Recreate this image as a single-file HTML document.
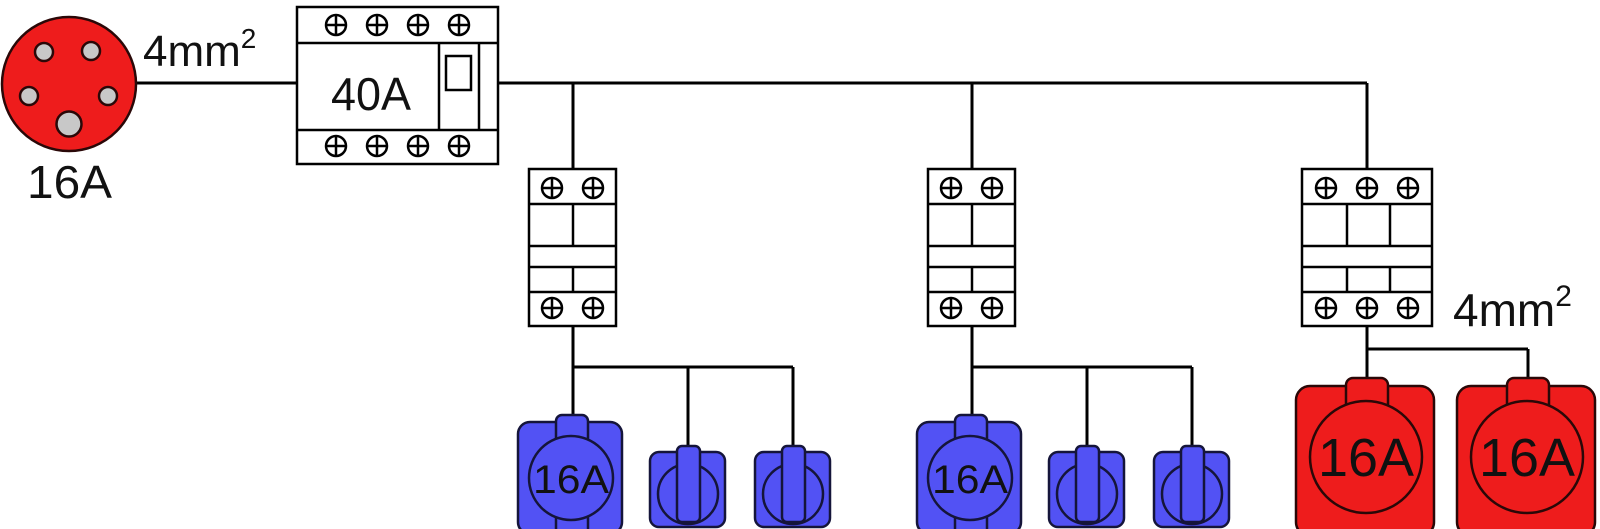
<!DOCTYPE html>
<html><head><meta charset="utf-8"><style>
html,body{margin:0;padding:0;background:#fff;}
svg{display:block;}
text{font-family:"Liberation Sans",sans-serif;}
</style></head><body>
<svg width="1600" height="529" viewBox="0 0 1600 529" xmlns="http://www.w3.org/2000/svg">
<defs>
<g id="scr"><circle r="10" fill="#fff" stroke="#000" stroke-width="2.5"/><line x1="-10" y1="0" x2="10" y2="0" stroke="#000" stroke-width="2.5"/><line x1="0" y1="-10" x2="0" y2="10" stroke="#000" stroke-width="2.5"/></g>
<g id="bbig">
<rect x="0" y="7" width="104" height="112" rx="12" fill="#5252f4" stroke="#15153a" stroke-width="2.5"/>
<rect x="38" y="0" width="32" height="30" rx="6" fill="#5252f4" stroke="#15153a" stroke-width="2.5"/>
<rect x="38" y="95" width="32" height="30" rx="6" fill="#5252f4" stroke="#15153a" stroke-width="2.5"/>
<circle cx="53" cy="63" r="42" fill="#5252f4" stroke="#15153a" stroke-width="2.5"/>
<text x="53" y="78" font-size="40" text-anchor="middle" fill="#111" textLength="76" lengthAdjust="spacingAndGlyphs">16A</text>
</g>
<g id="bsm">
<rect x="0" y="6" width="75" height="75" rx="9" fill="#5252f4" stroke="#15153a" stroke-width="2.5"/>
<circle cx="38" cy="48" r="30" fill="#5252f4" stroke="#15153a" stroke-width="2.5"/>
<rect x="27" y="0" width="23" height="76" rx="5" fill="#5252f4" stroke="#15153a" stroke-width="2.5"/>
</g>
<g id="rsock">
<rect x="0" y="8" width="138" height="150" rx="14" fill="#ee1c1c" stroke="#2a0808" stroke-width="2.5"/>
<rect x="50" y="0" width="42" height="40" rx="7" fill="#ee1c1c" stroke="#2a0808" stroke-width="2.5"/>
<circle cx="70" cy="79" r="56" fill="#ee1c1c" stroke="#2a0808" stroke-width="2.5"/>
<text x="70" y="98" font-size="54" text-anchor="middle" fill="#111" textLength="96" lengthAdjust="spacingAndGlyphs">16A</text>
</g>
</defs>
<g stroke="#000" stroke-width="3" fill="none">
<line x1="136" y1="83" x2="297" y2="83"/>
<line x1="498" y1="83" x2="1367" y2="83"/>
<line x1="573" y1="83" x2="573" y2="169"/>
<line x1="972" y1="83" x2="972" y2="169"/>
<line x1="1367" y1="83" x2="1367" y2="169"/>
<line x1="573" y1="326" x2="573" y2="416"/>
<line x1="573" y1="367" x2="793" y2="367"/>
<line x1="688" y1="367" x2="688" y2="447"/>
<line x1="793" y1="367" x2="793" y2="447"/>
<line x1="972" y1="326" x2="972" y2="416"/>
<line x1="972" y1="367" x2="1192" y2="367"/>
<line x1="1087" y1="367" x2="1087" y2="447"/>
<line x1="1192" y1="367" x2="1192" y2="447"/>
<line x1="1367" y1="326" x2="1367" y2="379"/>
<line x1="1367" y1="349" x2="1528" y2="349"/>
<line x1="1528" y1="349" x2="1528" y2="379"/>
</g>
<!-- plug -->
<circle cx="69" cy="84" r="67" fill="#ee1c1c" stroke="#2a0808" stroke-width="2.5"/>
<g fill="#c8c8c8" stroke="#2a0808" stroke-width="2.5">
<circle cx="44" cy="52" r="9"/><circle cx="91" cy="51" r="9"/>
<circle cx="29" cy="96" r="9"/><circle cx="108" cy="96" r="9"/>
<circle cx="69" cy="124" r="12.5"/>
</g>
<text x="27" y="198" font-size="46" fill="#111" textLength="85" lengthAdjust="spacingAndGlyphs">16A</text>
<text x="143" y="66" font-size="44" fill="#111">4mm<tspan font-size="28" dy="-18">2</tspan></text>
<!-- main breaker -->
<g stroke="#000" stroke-width="2.5" fill="#fff">
<rect x="297" y="7" width="201" height="157"/>
<line x1="297" y1="43" x2="498" y2="43"/>
<line x1="297" y1="130" x2="498" y2="130"/>
<line x1="439" y1="43" x2="439" y2="130"/>
<line x1="479" y1="43" x2="479" y2="130"/>
<rect x="446" y="56" width="25" height="34"/>
</g>
<use href="#scr" x="336" y="25"/><use href="#scr" x="377" y="25"/><use href="#scr" x="418" y="25"/><use href="#scr" x="459" y="25"/>
<use href="#scr" x="336" y="146"/><use href="#scr" x="377" y="146"/><use href="#scr" x="418" y="146"/><use href="#scr" x="459" y="146"/>
<text x="371" y="110" font-size="46" text-anchor="middle" fill="#111" textLength="80" lengthAdjust="spacingAndGlyphs">40A</text>
<!-- breaker 2-pole -->
<g id="b2">
<g stroke="#000" stroke-width="2.5" fill="#fff">
<rect x="529" y="169" width="87" height="157"/>
<line x1="529" y1="204" x2="616" y2="204"/>
<line x1="529" y1="246" x2="616" y2="246"/>
<line x1="529" y1="267" x2="616" y2="267"/>
<line x1="529" y1="292" x2="616" y2="292"/>
<line x1="573" y1="204" x2="573" y2="246"/>
<line x1="573" y1="267" x2="573" y2="292"/>
</g>
<use href="#scr" x="552" y="188"/><use href="#scr" x="593" y="188"/>
<use href="#scr" x="552" y="308"/><use href="#scr" x="593" y="308"/>
</g>
<use href="#b2" x="399" y="0"/>
<!-- breaker 3-pole -->
<g stroke="#000" stroke-width="2.5" fill="#fff">
<rect x="1302" y="169" width="130" height="157"/>
<line x1="1302" y1="204" x2="1432" y2="204"/>
<line x1="1302" y1="246" x2="1432" y2="246"/>
<line x1="1302" y1="267" x2="1432" y2="267"/>
<line x1="1302" y1="292" x2="1432" y2="292"/>
<line x1="1347" y1="204" x2="1347" y2="246"/><line x1="1390" y1="204" x2="1390" y2="246"/>
<line x1="1347" y1="267" x2="1347" y2="292"/><line x1="1390" y1="267" x2="1390" y2="292"/>
</g>
<use href="#scr" x="1326" y="188"/><use href="#scr" x="1367" y="188"/><use href="#scr" x="1408" y="188"/>
<use href="#scr" x="1326" y="308"/><use href="#scr" x="1367" y="308"/><use href="#scr" x="1408" y="308"/>
<text x="1453" y="326" font-size="46" fill="#111">4mm<tspan font-size="30" dy="-20">2</tspan></text>
<!-- sockets -->
<use href="#bbig" x="518" y="415"/>
<use href="#bsm" x="650" y="446"/>
<use href="#bsm" x="755" y="446"/>
<use href="#bbig" x="917" y="415"/>
<use href="#bsm" x="1049" y="446"/>
<use href="#bsm" x="1154" y="446"/>
<use href="#rsock" x="1296" y="378"/>
<use href="#rsock" x="1457" y="378"/>
</svg>
</body></html>
